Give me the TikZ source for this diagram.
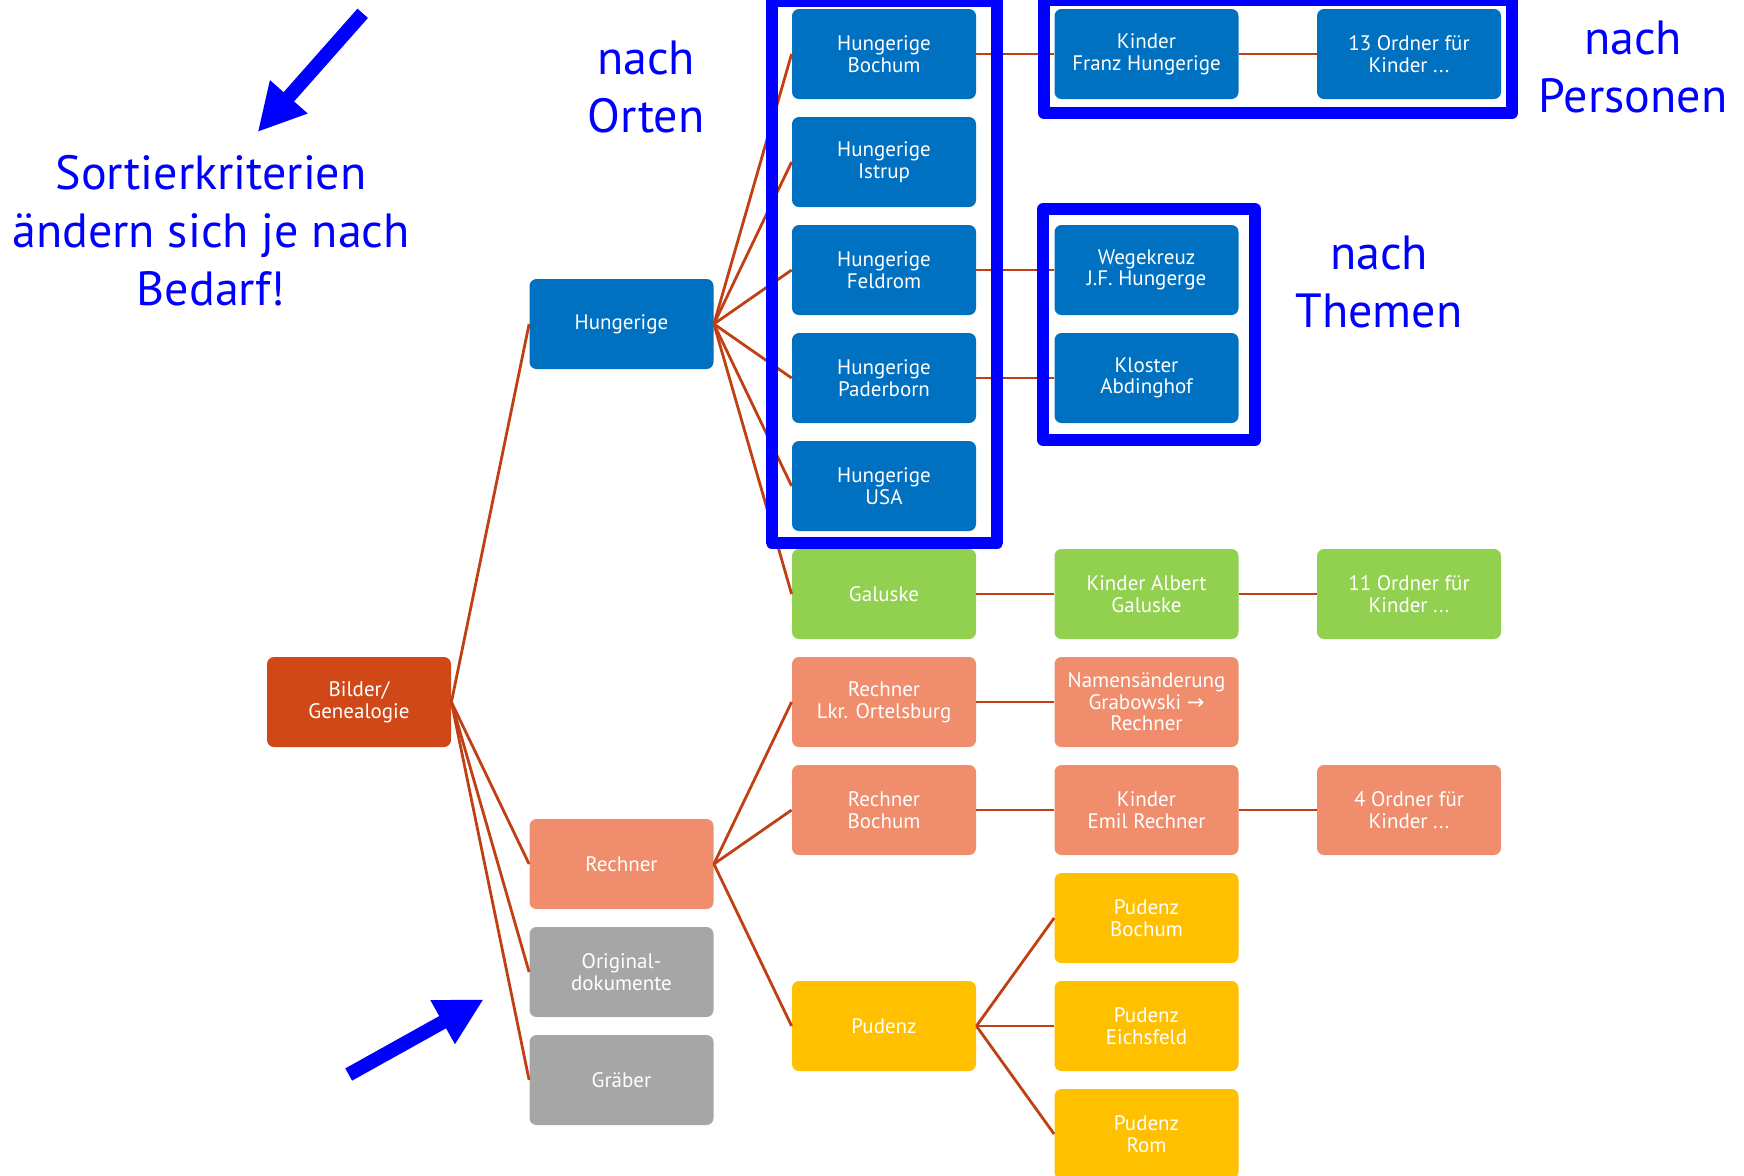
\documentclass[tikz,border=0pt]{standalone}
\usepackage{fontspec}
\setmainfont{PT Sans}
\newfontfamily\pfeilfont{DejaVu Sans}
\usetikzlibrary{arrows.meta}
\definecolor{ortblau}{RGB}{0,112,192}
\definecolor{gruen}{RGB}{146,208,80}
\definecolor{lachs}{RGB}{240,141,108}
\definecolor{rotorange}{RGB}{209,72,24}
\definecolor{grau}{RGB}{166,166,166}
\definecolor{gelb}{RGB}{255,192,0}
\definecolor{linienrot}{RGB}{192,64,20}
\definecolor{rahmenblau}{RGB}{0,0,255}
\def\blaubox{\node[kasten,fill=ortblau]}
\def\gruenbox{\node[kasten,fill=gruen]}
\def\lachsbox{\node[kasten,fill=lachs]}
\def\graubox{\node[kasten,fill=grau]}
\def\gelbbox{\node[kasten,fill=gelb]}

\begin{document}
\begin{tikzpicture}[x=0.5pt,y=-0.5pt,
  kasten/.style={rounded corners=3.5pt,minimum width=92pt,minimum height=45pt,
    inner sep=0pt,align=center,text=white,font=\fontsize{10.5}{10.8}\selectfont},
  verbindung/.style={draw=linienrot,line width=1.4pt},
  rahmen/.style={draw=rahmenblau,line width=6pt,line join=round},
  hinweis/.style={text=rahmenblau,align=center,font=\fontsize{24}{29}\selectfont},
  pfeil/.style={draw=rahmenblau,line width=7pt,-{Triangle[length=23.5pt,width=23.5pt]}}]
\useasboundingbox (0,0) rectangle (1744,1175);

% Wurzel und erste Ebene
\node[kasten,fill=rotorange] (bilder) at (359,702) {Bilder/\\Genealogie};
\blaubox (hung) at (621.5,324) {Hungerige};
\lachsbox (rech) at (621.5,864) {Rechner};
\graubox (orig) at (621.5,972) {Original-\\dokumente};
\graubox (graeb) at (621.5,1080) {Gräber};

% nach Orten
\blaubox (hbochum) at (884,54) {Hungerige\\Bochum};
\blaubox (histrup) at (884,162) {Hungerige\\Istrup};
\blaubox (hfeldrom) at (884,270) {Hungerige\\Feldrom};
\blaubox (hpaderborn) at (884,378) {Hungerige\\Paderborn};
\blaubox (husa) at (884,486) {Hungerige\\USA};
\gruenbox (galuske) at (884,594) {Galuske};
\lachsbox (rlkr) at (884,702) {Rechner\\Lkr. Ortelsburg};
\lachsbox (rbochum) at (884,810) {Rechner\\Bochum};
\gelbbox (pudenz) at (884,1026) {Pudenz};

% Personen und Themen
\blaubox (kfranz) at (1146.5,54) {Kinder\\Franz Hungerige};
\blaubox (wegekreuz) at (1146.5,270) {Wegekreuz\\J.F. Hungerge};
\blaubox (kloster) at (1146.5,378) {Kloster\\Abdinghof};
\gruenbox (kalbert) at (1146.5,594) {Kinder Albert\\Galuske};
\lachsbox (namens) at (1146.5,702) {Namensänderung\\Grabowski {\pfeilfont →}\\Rechner};
\lachsbox (kemil) at (1146.5,810) {Kinder\\Emil Rechner};
\gelbbox (pbochum) at (1146.5,918) {Pudenz\\Bochum};
\gelbbox (peichsfeld) at (1146.5,1026) {Pudenz\\Eichsfeld};
\gelbbox (prom) at (1146.5,1134) {Pudenz\\Rom};

\blaubox (ord13) at (1409,54) {13 Ordner für\\Kinder ...};
\gruenbox (ord11) at (1409,594) {11 Ordner für\\Kinder ...};
\lachsbox (ord4) at (1409,810) {4 Ordner für\\Kinder ...};

% Verbindungen
\foreach \a/\b in {bilder/hung,bilder/rech,bilder/orig,bilder/graeb,
    hung/hbochum,hung/histrup,hung/hfeldrom,hung/hpaderborn,hung/husa,hung/galuske,
    rech/rlkr,rech/rbochum,rech/pudenz,
    pudenz/pbochum,pudenz/peichsfeld,pudenz/prom,
    hbochum/kfranz,kfranz/ord13,hfeldrom/wegekreuz,hpaderborn/kloster,
    galuske/kalbert,kalbert/ord11,rlkr/namens,rbochum/kemil,kemil/ord4}
  \draw[verbindung] (\a.east) -- (\b.west);

% Rahmen
\draw[rahmen] (771.7,1) rectangle (997.3,542.7);
\draw[rahmen] (1044,0) rectangle (1512,112.8);
\draw[rahmen] (1043.3,209) rectangle (1255,440);

% Hinweise
\node[hinweis] (orte) at (646,86.5) {nach\\Orten};
\node[hinweis] (personen) at (1633,67) {nach\\Personen};
\node[hinweis] (themen) at (1379,282) {nach\\Themen};
\node[hinweis] (kriterien) at (211,231) {Sortierkriterien\\ändern sich je nach\\Bedarf!};

% Pfeile
\coordinate (obenstart) at (362.7,13.3);
\coordinate (obenziel) at (257.7,132);
\coordinate (untenstart) at (348.7,1074.5);
\coordinate (untenziel) at (483.7,999.3);
\draw[pfeil] (obenstart) -- (obenziel);
\draw[pfeil] (untenstart) -- (untenziel);
\end{tikzpicture}
\end{document}
